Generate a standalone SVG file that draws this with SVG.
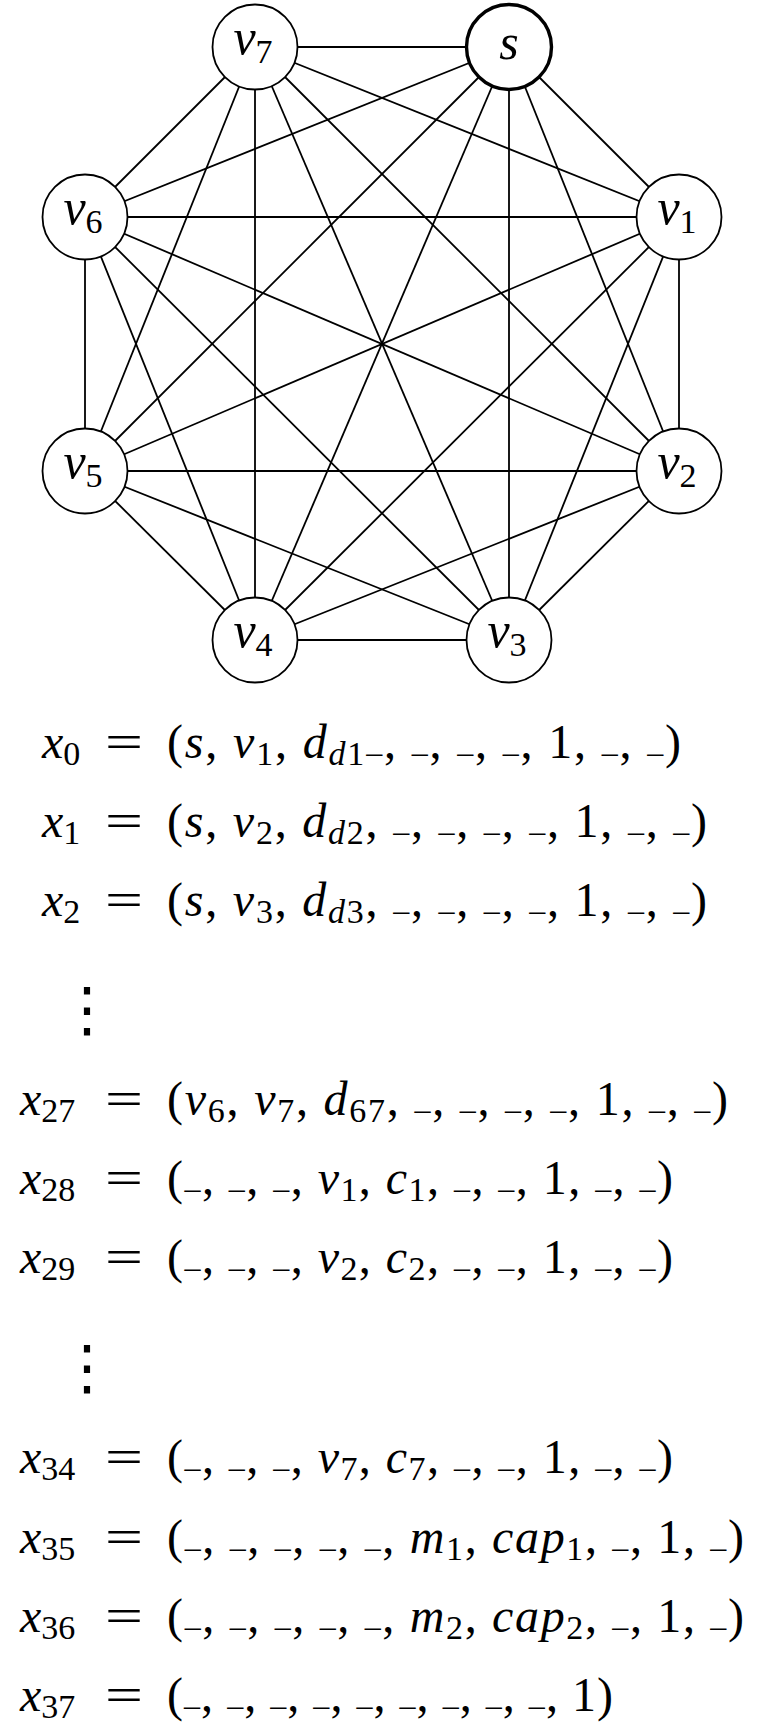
<svg xmlns="http://www.w3.org/2000/svg" width="765" height="1730" viewBox="0 0 765 1730">
<rect x="0" y="0" width="765" height="1730" fill="#fff"/>
<g id="edges" stroke="#000" stroke-width="1.8" fill="none">
<line x1="509" y1="47" x2="679" y2="217"/>
<line x1="509" y1="47" x2="679" y2="471"/>
<line x1="509" y1="47" x2="509" y2="640"/>
<line x1="509" y1="47" x2="255" y2="640"/>
<line x1="509" y1="47" x2="85" y2="471"/>
<line x1="509" y1="47" x2="85" y2="217"/>
<line x1="509" y1="47" x2="255" y2="47"/>
<line x1="679" y1="217" x2="679" y2="471"/>
<line x1="679" y1="217" x2="509" y2="640"/>
<line x1="679" y1="217" x2="255" y2="640"/>
<line x1="679" y1="217" x2="85" y2="471"/>
<line x1="679" y1="217" x2="85" y2="217"/>
<line x1="679" y1="217" x2="255" y2="47"/>
<line x1="679" y1="471" x2="509" y2="640"/>
<line x1="679" y1="471" x2="255" y2="640"/>
<line x1="679" y1="471" x2="85" y2="471"/>
<line x1="679" y1="471" x2="85" y2="217"/>
<line x1="679" y1="471" x2="255" y2="47"/>
<line x1="509" y1="640" x2="255" y2="640"/>
<line x1="509" y1="640" x2="85" y2="471"/>
<line x1="509" y1="640" x2="85" y2="217"/>
<line x1="509" y1="640" x2="255" y2="47"/>
<line x1="255" y1="640" x2="85" y2="471"/>
<line x1="255" y1="640" x2="85" y2="217"/>
<line x1="255" y1="640" x2="255" y2="47"/>
<line x1="85" y1="471" x2="85" y2="217"/>
<line x1="85" y1="471" x2="255" y2="47"/>
<line x1="85" y1="217" x2="255" y2="47"/>
</g>
<g id="node-s"><circle cx="509" cy="47" r="42.5" fill="#fff" stroke="#000" stroke-width="3.4"/><text x="509" y="59" style="font-family:'Liberation Serif' !important" font-size="50" text-anchor="middle"><tspan font-style="italic">s</tspan></text></g>
<g id="node-v1"><circle cx="679" cy="217" r="42.5" fill="#fff" stroke="#000" stroke-width="1.8"/><text x="677" y="224" style="font-family:'Liberation Serif' !important" font-size="50" text-anchor="middle"><tspan font-style="italic">v</tspan><tspan font-size="34" dy="9">1</tspan></text></g>
<g id="node-v2"><circle cx="679" cy="471" r="42.5" fill="#fff" stroke="#000" stroke-width="1.8"/><text x="677" y="478" style="font-family:'Liberation Serif' !important" font-size="50" text-anchor="middle"><tspan font-style="italic">v</tspan><tspan font-size="34" dy="9">2</tspan></text></g>
<g id="node-v3"><circle cx="509" cy="640" r="42.5" fill="#fff" stroke="#000" stroke-width="1.8"/><text x="507" y="647" style="font-family:'Liberation Serif' !important" font-size="50" text-anchor="middle"><tspan font-style="italic">v</tspan><tspan font-size="34" dy="9">3</tspan></text></g>
<g id="node-v4"><circle cx="255" cy="640" r="42.5" fill="#fff" stroke="#000" stroke-width="1.8"/><text x="253" y="647" style="font-family:'Liberation Serif' !important" font-size="50" text-anchor="middle"><tspan font-style="italic">v</tspan><tspan font-size="34" dy="9">4</tspan></text></g>
<g id="node-v5"><circle cx="85" cy="471" r="42.5" fill="#fff" stroke="#000" stroke-width="1.8"/><text x="83" y="478" style="font-family:'Liberation Serif' !important" font-size="50" text-anchor="middle"><tspan font-style="italic">v</tspan><tspan font-size="34" dy="9">5</tspan></text></g>
<g id="node-v6"><circle cx="85" cy="217" r="42.5" fill="#fff" stroke="#000" stroke-width="1.8"/><text x="83" y="224" style="font-family:'Liberation Serif' !important" font-size="50" text-anchor="middle"><tspan font-style="italic">v</tspan><tspan font-size="34" dy="9">6</tspan></text></g>
<g id="node-v7"><circle cx="255" cy="47" r="42.5" fill="#fff" stroke="#000" stroke-width="1.8"/><text x="253" y="54" style="font-family:'Liberation Serif' !important" font-size="50" text-anchor="middle"><tspan font-style="italic">v</tspan><tspan font-size="34" dy="9">7</tspan></text></g>

<text x="42" y="758" style="font-family:'Liberation Serif' !important" font-size="48"><tspan font-style="italic">x</tspan><tspan font-size="34" dy="7">0</tspan></text>
<text x="105" y="758" style="font-family:'Liberation Serif' !important" font-size="48" textLength="38" lengthAdjust="spacingAndGlyphs">=</text>
<text x="167" y="758" style="font-family:'Liberation Serif' !important" font-size="48" textLength="514" lengthAdjust="spacing">(<tspan font-style="italic">s</tspan>, <tspan font-style="italic">v</tspan><tspan font-size="34" dy="7">1</tspan><tspan dy="-7">, </tspan><tspan font-style="italic">d</tspan><tspan font-size="34" font-style="italic" dy="7">d</tspan><tspan font-size="34">1</tspan><tspan font-size="32" dy="-13">_</tspan><tspan dy="6">, </tspan><tspan font-size="32" dy="-6">_</tspan><tspan dy="6">, </tspan><tspan font-size="32" dy="-6">_</tspan><tspan dy="6">, </tspan><tspan font-size="32" dy="-6">_</tspan><tspan dy="6">, 1, </tspan><tspan font-size="32" dy="-6">_</tspan><tspan dy="6">, </tspan><tspan font-size="32" dy="-6">_</tspan><tspan dy="6">)</tspan></text>

<text x="42" y="837" style="font-family:'Liberation Serif' !important" font-size="48"><tspan font-style="italic">x</tspan><tspan font-size="34" dy="7">1</tspan></text>
<text x="105" y="837" style="font-family:'Liberation Serif' !important" font-size="48" textLength="38" lengthAdjust="spacingAndGlyphs">=</text>
<text x="167" y="837" style="font-family:'Liberation Serif' !important" font-size="48" textLength="540" lengthAdjust="spacing">(<tspan font-style="italic">s</tspan>, <tspan font-style="italic">v</tspan><tspan font-size="34" dy="7">2</tspan><tspan dy="-7">, </tspan><tspan font-style="italic">d</tspan><tspan font-size="34" font-style="italic" dy="7">d</tspan><tspan font-size="34">2</tspan><tspan dy="-7">, </tspan><tspan font-size="32" dy="-6">_</tspan><tspan dy="6">, </tspan><tspan font-size="32" dy="-6">_</tspan><tspan dy="6">, </tspan><tspan font-size="32" dy="-6">_</tspan><tspan dy="6">, </tspan><tspan font-size="32" dy="-6">_</tspan><tspan dy="6">, 1, </tspan><tspan font-size="32" dy="-6">_</tspan><tspan dy="6">, </tspan><tspan font-size="32" dy="-6">_</tspan><tspan dy="6">)</tspan></text>

<text x="42" y="916" style="font-family:'Liberation Serif' !important" font-size="48"><tspan font-style="italic">x</tspan><tspan font-size="34" dy="7">2</tspan></text>
<text x="105" y="916" style="font-family:'Liberation Serif' !important" font-size="48" textLength="38" lengthAdjust="spacingAndGlyphs">=</text>
<text x="167" y="916" style="font-family:'Liberation Serif' !important" font-size="48" textLength="540" lengthAdjust="spacing">(<tspan font-style="italic">s</tspan>, <tspan font-style="italic">v</tspan><tspan font-size="34" dy="7">3</tspan><tspan dy="-7">, </tspan><tspan font-style="italic">d</tspan><tspan font-size="34" font-style="italic" dy="7">d</tspan><tspan font-size="34">3</tspan><tspan dy="-7">, </tspan><tspan font-size="32" dy="-6">_</tspan><tspan dy="6">, </tspan><tspan font-size="32" dy="-6">_</tspan><tspan dy="6">, </tspan><tspan font-size="32" dy="-6">_</tspan><tspan dy="6">, </tspan><tspan font-size="32" dy="-6">_</tspan><tspan dy="6">, 1, </tspan><tspan font-size="32" dy="-6">_</tspan><tspan dy="6">, </tspan><tspan font-size="32" dy="-6">_</tspan><tspan dy="6">)</tspan></text>

<text x="87" y="1030" font-family="DejaVu Sans" font-size="60" text-anchor="middle">⋮</text>

<text x="20" y="1115" style="font-family:'Liberation Serif' !important" font-size="48"><tspan font-style="italic">x</tspan><tspan font-size="34" dy="7">27</tspan></text>
<text x="105" y="1115" style="font-family:'Liberation Serif' !important" font-size="48" textLength="38" lengthAdjust="spacingAndGlyphs">=</text>
<text x="167" y="1115" style="font-family:'Liberation Serif' !important" font-size="48" textLength="561" lengthAdjust="spacing">(<tspan font-style="italic">v</tspan><tspan font-size="34" dy="7">6</tspan><tspan dy="-7">, </tspan><tspan font-style="italic">v</tspan><tspan font-size="34" dy="7">7</tspan><tspan dy="-7">, </tspan><tspan font-style="italic">d</tspan><tspan font-size="34" dy="7">67</tspan><tspan dy="-7">, </tspan><tspan font-size="32" dy="-6">_</tspan><tspan dy="6">, </tspan><tspan font-size="32" dy="-6">_</tspan><tspan dy="6">, </tspan><tspan font-size="32" dy="-6">_</tspan><tspan dy="6">, </tspan><tspan font-size="32" dy="-6">_</tspan><tspan dy="6">, 1, </tspan><tspan font-size="32" dy="-6">_</tspan><tspan dy="6">, </tspan><tspan font-size="32" dy="-6">_</tspan><tspan dy="6">)</tspan></text>

<text x="20" y="1194" style="font-family:'Liberation Serif' !important" font-size="48"><tspan font-style="italic">x</tspan><tspan font-size="34" dy="7">28</tspan></text>
<text x="105" y="1194" style="font-family:'Liberation Serif' !important" font-size="48" textLength="38" lengthAdjust="spacingAndGlyphs">=</text>
<text x="167" y="1194" style="font-family:'Liberation Serif' !important" font-size="48" textLength="506" lengthAdjust="spacing">(<tspan font-size="32" dy="-6">_</tspan><tspan dy="6">, </tspan><tspan font-size="32" dy="-6">_</tspan><tspan dy="6">, </tspan><tspan font-size="32" dy="-6">_</tspan><tspan dy="6">, </tspan><tspan font-style="italic">v</tspan><tspan font-size="34" dy="7">1</tspan><tspan dy="-7">, </tspan><tspan font-style="italic">c</tspan><tspan font-size="34" dy="7">1</tspan><tspan dy="-7">, </tspan><tspan font-size="32" dy="-6">_</tspan><tspan dy="6">, </tspan><tspan font-size="32" dy="-6">_</tspan><tspan dy="6">, 1, </tspan><tspan font-size="32" dy="-6">_</tspan><tspan dy="6">, </tspan><tspan font-size="32" dy="-6">_</tspan><tspan dy="6">)</tspan></text>

<text x="20" y="1273" style="font-family:'Liberation Serif' !important" font-size="48"><tspan font-style="italic">x</tspan><tspan font-size="34" dy="7">29</tspan></text>
<text x="105" y="1273" style="font-family:'Liberation Serif' !important" font-size="48" textLength="38" lengthAdjust="spacingAndGlyphs">=</text>
<text x="167" y="1273" style="font-family:'Liberation Serif' !important" font-size="48" textLength="506" lengthAdjust="spacing">(<tspan font-size="32" dy="-6">_</tspan><tspan dy="6">, </tspan><tspan font-size="32" dy="-6">_</tspan><tspan dy="6">, </tspan><tspan font-size="32" dy="-6">_</tspan><tspan dy="6">, </tspan><tspan font-style="italic">v</tspan><tspan font-size="34" dy="7">2</tspan><tspan dy="-7">, </tspan><tspan font-style="italic">c</tspan><tspan font-size="34" dy="7">2</tspan><tspan dy="-7">, </tspan><tspan font-size="32" dy="-6">_</tspan><tspan dy="6">, </tspan><tspan font-size="32" dy="-6">_</tspan><tspan dy="6">, 1, </tspan><tspan font-size="32" dy="-6">_</tspan><tspan dy="6">, </tspan><tspan font-size="32" dy="-6">_</tspan><tspan dy="6">)</tspan></text>

<text x="87" y="1388" font-family="DejaVu Sans" font-size="60" text-anchor="middle">⋮</text>

<text x="20" y="1473" style="font-family:'Liberation Serif' !important" font-size="48"><tspan font-style="italic">x</tspan><tspan font-size="34" dy="7">34</tspan></text>
<text x="105" y="1473" style="font-family:'Liberation Serif' !important" font-size="48" textLength="38" lengthAdjust="spacingAndGlyphs">=</text>
<text x="167" y="1473" style="font-family:'Liberation Serif' !important" font-size="48" textLength="506" lengthAdjust="spacing">(<tspan font-size="32" dy="-6">_</tspan><tspan dy="6">, </tspan><tspan font-size="32" dy="-6">_</tspan><tspan dy="6">, </tspan><tspan font-size="32" dy="-6">_</tspan><tspan dy="6">, </tspan><tspan font-style="italic">v</tspan><tspan font-size="34" dy="7">7</tspan><tspan dy="-7">, </tspan><tspan font-style="italic">c</tspan><tspan font-size="34" dy="7">7</tspan><tspan dy="-7">, </tspan><tspan font-size="32" dy="-6">_</tspan><tspan dy="6">, </tspan><tspan font-size="32" dy="-6">_</tspan><tspan dy="6">, 1, </tspan><tspan font-size="32" dy="-6">_</tspan><tspan dy="6">, </tspan><tspan font-size="32" dy="-6">_</tspan><tspan dy="6">)</tspan></text>

<text x="20" y="1553" style="font-family:'Liberation Serif' !important" font-size="48"><tspan font-style="italic">x</tspan><tspan font-size="34" dy="7">35</tspan></text>
<text x="105" y="1553" style="font-family:'Liberation Serif' !important" font-size="48" textLength="38" lengthAdjust="spacingAndGlyphs">=</text>
<text x="167" y="1553" style="font-family:'Liberation Serif' !important" font-size="48" textLength="577" lengthAdjust="spacing">(<tspan font-size="32" dy="-6">_</tspan><tspan dy="6">, </tspan><tspan font-size="32" dy="-6">_</tspan><tspan dy="6">, </tspan><tspan font-size="32" dy="-6">_</tspan><tspan dy="6">, </tspan><tspan font-size="32" dy="-6">_</tspan><tspan dy="6">, </tspan><tspan font-size="32" dy="-6">_</tspan><tspan dy="6">, </tspan><tspan font-style="italic">m</tspan><tspan font-size="34" dy="7">1</tspan><tspan dy="-7">, </tspan><tspan font-style="italic">cap</tspan><tspan font-size="34" dy="7">1</tspan><tspan dy="-7">, </tspan><tspan font-size="32" dy="-6">_</tspan><tspan dy="6">, 1, </tspan><tspan font-size="32" dy="-6">_</tspan><tspan dy="6">)</tspan></text>

<text x="20" y="1632" style="font-family:'Liberation Serif' !important" font-size="48"><tspan font-style="italic">x</tspan><tspan font-size="34" dy="7">36</tspan></text>
<text x="105" y="1632" style="font-family:'Liberation Serif' !important" font-size="48" textLength="38" lengthAdjust="spacingAndGlyphs">=</text>
<text x="167" y="1632" style="font-family:'Liberation Serif' !important" font-size="48" textLength="577" lengthAdjust="spacing">(<tspan font-size="32" dy="-6">_</tspan><tspan dy="6">, </tspan><tspan font-size="32" dy="-6">_</tspan><tspan dy="6">, </tspan><tspan font-size="32" dy="-6">_</tspan><tspan dy="6">, </tspan><tspan font-size="32" dy="-6">_</tspan><tspan dy="6">, </tspan><tspan font-size="32" dy="-6">_</tspan><tspan dy="6">, </tspan><tspan font-style="italic">m</tspan><tspan font-size="34" dy="7">2</tspan><tspan dy="-7">, </tspan><tspan font-style="italic">cap</tspan><tspan font-size="34" dy="7">2</tspan><tspan dy="-7">, </tspan><tspan font-size="32" dy="-6">_</tspan><tspan dy="6">, 1, </tspan><tspan font-size="32" dy="-6">_</tspan><tspan dy="6">)</tspan></text>

<text x="20" y="1711" style="font-family:'Liberation Serif' !important" font-size="48"><tspan font-style="italic">x</tspan><tspan font-size="34" dy="7">37</tspan></text>
<text x="105" y="1711" style="font-family:'Liberation Serif' !important" font-size="48" textLength="38" lengthAdjust="spacingAndGlyphs">=</text>
<text x="167" y="1711" style="font-family:'Liberation Serif' !important" font-size="48" textLength="446" lengthAdjust="spacing">(<tspan font-size="32" dy="-6">_</tspan><tspan dy="6">, </tspan><tspan font-size="32" dy="-6">_</tspan><tspan dy="6">, </tspan><tspan font-size="32" dy="-6">_</tspan><tspan dy="6">, </tspan><tspan font-size="32" dy="-6">_</tspan><tspan dy="6">, </tspan><tspan font-size="32" dy="-6">_</tspan><tspan dy="6">, </tspan><tspan font-size="32" dy="-6">_</tspan><tspan dy="6">, </tspan><tspan font-size="32" dy="-6">_</tspan><tspan dy="6">, </tspan><tspan font-size="32" dy="-6">_</tspan><tspan dy="6">, </tspan><tspan font-size="32" dy="-6">_</tspan><tspan dy="6">, 1)</tspan></text>
</svg>
